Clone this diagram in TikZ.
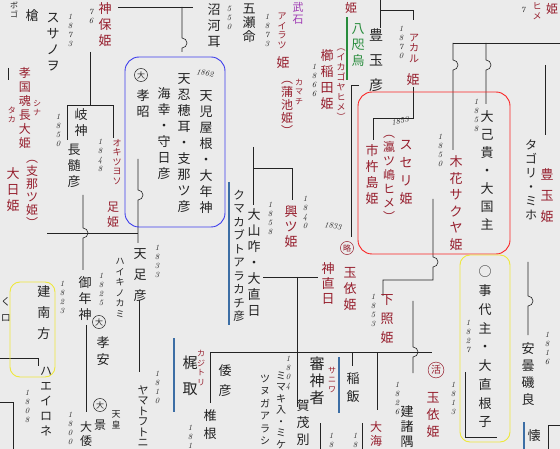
\documentclass[tikz,border=0pt]{standalone}
\usepackage{fontspec}
\newfontfamily\kanji{Noto Sans CJK JP}
\usetikzlibrary{arrows.meta}
\definecolor{paper}{RGB}{235,235,235}
\definecolor{ink}{RGB}{35,35,35}
\definecolor{crim}{RGB}{150,30,45}
\definecolor{bluebox}{RGB}{60,60,235}
\definecolor{redbox}{RGB}{250,35,35}
\definecolor{yelbox}{RGB}{238,232,60}
\definecolor{leaf}{RGB}{40,140,60}
\definecolor{plum}{RGB}{160,60,180}
\definecolor{barblue}{RGB}{60,110,165}
\tikzset{
  kami/.style  = {font=\kanji\fontsize{13}{16}\selectfont, text=ink,
                  align=center, inner sep=0pt},
  hime/.style  = {kami, text=crim},
  yomi/.style  = {font=\kanji\fontsize{8}{9.5}\selectfont, text=ink,
                  align=center, inner sep=0pt},
  nen/.style   = {font=\fontsize{8}{9}\selectfont\itshape, text=ink,
                  align=center, inner sep=0pt},
  sz/.style 2 args = {font=\kanji\fontsize{#1}{#2}\selectfont},
  kin/.style   = {draw=ink, line width=0.6pt},
  wed/.style   = {draw=ink, line width=0.5pt, double=paper, double distance=1.4pt},
  ring/.style  = {circle, draw=ink, line width=0.5pt, inner sep=0.8pt,
                  font=\kanji\fontsize{8}{8}\selectfont, text=ink},
  frame/.style = {rounded corners=14pt, line width=0.9pt},
  bar/.style   = {draw=barblue, line width=1.1pt}
}
\begin{document}
\begin{tikzpicture}[x=1pt, y=-1pt]
  \fill[paper] (0,0) rectangle (560,449);
  \useasboundingbox (0,0) rectangle (560,449);

  % 婚姻線
  \draw[wed] (0,29) -- (43,29);
  \draw[wed] (0,68) -- (45,68);
  \draw[wed] (58,52) -- (313,52);
  \draw[wed] (387,65) -- (560,65);
  \draw[wed] (212,147) -- (351,147);
  \draw[wed] (40,195) -- (140,195);
  \draw[wed] (128,159) -- (140,159);
  \draw[wed] (357,262) -- (560,262);
  \draw[wed] (395,301) -- (560,301);
  \draw[wed] (417,199) -- (473,199);
  \draw[wed] (492,187) -- (512,187);
  \draw[wed] (445,370) -- (470,370);
  \draw[wed] (308,423) -- (372,423);
  \draw[wed] (0,377) -- (43,377);
  \draw[wed] (47,236) -- (47,288);

  % 親子線
  \draw[kin] (118,7) -- (193,7);
  \draw[kin] (182,7) -- (182,38) arc[start angle=-90, end angle=90, radius=5] -- (182,52);
  \draw[kin] (8,68) -- (8,80);
  \draw[kin] (90,52) -- (90,105);
  \draw[kin] (67,140) -- (67,105) -- (113,105) -- (113,138);
  \draw[kin] (83,195) -- (83,228) arc[start angle=-90, end angle=90, radius=5] -- (83,270);
  \draw[kin] (86,325) -- (86,412);
  \draw[kin] (47,233) -- (138,233);
  \draw[kin] (138,159) -- (138,190) arc[start angle=-90, end angle=90, radius=5] -- (138,243);
  \draw[kin] (139,300) -- (139,372);
  \draw[kin] (253,147) -- (253,205);
  \draw[kin] (253,168) -- (292,168) -- (292,200);
  \draw[kin] (359,85) -- (351,85) -- (351,237);
  \draw[kin] (263,277) -- (318,277);
  \draw[kin] (297,277) -- (297,407);
  \draw[kin] (210,403) -- (210,352) -- (432,352);
  \draw[kin] (352,352) -- (352,366);
  \draw[kin] (377,352) -- (377,410);
  \draw[kin] (413,301) -- (413,347) arc[start angle=-90, end angle=90, radius=5] -- (413,373);
  \draw[kin] (433,199) -- (433,257) arc[start angle=-90, end angle=90, radius=5] -- (433,280) -- (383,280) -- (383,296);
  \draw[kin] (465,372) -- (465,437) -- (497,437);
  \draw[kin] (528,262) -- (528,296) arc[start angle=-90, end angle=90, radius=5] -- (528,335);
  \draw[kin] (453,43) -- (560,43);
  \draw[kin] (453,43) -- (453,60) arc[start angle=-90, end angle=90, radius=5] -- (453,150);
  \draw[kin] (486,43) -- (486,60) arc[start angle=-90, end angle=90, radius=5] -- (486,104);
  \draw[kin] (545,65) -- (545,135);
  \draw[kin] (413,87) -- (413,118) -- (373,118) -- (373,140);
  \draw[kin] (380,0) -- (380,28);
  \draw[kin] (380,10) -- (413,10) -- (413,20);
  \draw[kin] (0,358) -- (38,358) -- (38,366);
  \draw[kin] (0,402) -- (13,402) -- (13,449);
  \draw[kin] (320,423) -- (320,449);
  \draw[kin] (362,423) -- (362,449);
  \draw[kin] (548,449) -- (548,425) -- (560,425);

  % 色の縦棒
  \draw[bar] (229,182) -- (229,325);
  \draw[bar] (174,338) -- (174,412);
  \draw[bar] (339,357) -- (339,413);
  \draw[bar] (524,422) -- (524,449);
  \draw[draw=leaf, line width=1.3pt] (347,17) -- (347,80);

  % 左上
  \node[yomi] (bogo) at (14,10) {ボ\\ゴ};
  \node[kami] (yari) at (32,16) {槍};
  \node[kami] (susanoo) at (53,42) {ス\\サ\\ノ\\ヲ};
  \node[nen] (n1873a) at (70,30) {1\\8\\7\\3};
  \node[nen] (n76) at (91,16) {7\\6};
  \node[hime] (kamuho) at (105,25) {神\\保\\姫};
  \node[hime, sz={12}{14}] (kodama) at (25,108) {孝\\国\\魂\\長\\大\\姫};
  \node[yomi, text=crim] (shina) at (37,108) {シ\\ナ};
  \node[yomi, text=crim] (taka) at (12,115) {タ\\カ};
  \node[hime, sz={12}{13}] (shinatsu) at (32,194) {︵\\支\\那\\ツ\\姫\\︶};
  \node[hime] (hirume) at (13,190) {大\\日\\姫};

  % 岐神の枠
  \node[kami] (kunado) at (81,123) {岐\\神};
  \node[kami] (nagasune) at (74,166) {長\\髄\\彦};
  \node[nen] (n1850a) at (58,130) {1\\8\\5\\0};
  \node[nen] (n1848) at (100,155) {1\\8\\4\\8};
  \node[hime, sz={9}{9.5}] (okitsu) at (117,162) {オ\\キ\\ツ\\ヨ\\ソ};
  \node[hime, sz={12}{15}] (tarashi) at (113,215) {足\\姫};

  % 青の枠
  \node[ring] (dai1) at (141,75) {大};
  \node[kami] (kosho) at (143,104) {孝\\昭};
  \node[kami] (umisachi) at (164,134) {海\\幸\\・\\守\\日\\彦};
  \node[nen, rotate=-10] (n1862) at (205,73) {1862};
  \node[kami] (oshiho) at (184,143) {天\\忍\\穂\\耳\\・\\支\\那\\ツ\\彦};
  \node[kami] (koyane) at (206,152) {天\\児\\屋\\根\\・\\大\\年\\神};

  % 上中央
  \node[kami] (nunakawa) at (214,26) {沼\\河\\耳};
  \node[nen] (n550) at (229,18) {5\\5\\0};
  \node[kami, sz={13}{14}] (itsuse) at (249,23) {五\\瀬\\命};
  \node[nen] (n1873b) at (267,30) {1\\8\\7\\3};
  \node[kami, sz={11}{12}, text=plum] (takeishi) at (298,13) {武\\石};
  \node[hime, sz={9}{9.5}] (airatsu) at (282,31) {ア\\イ\\ラ\\ツ};
  \node[hime] (airahime) at (283,63) {姫};
  \node[hime, sz={12}{13}] (kamachi) at (287,108) {︵\\蒲\\池\\姫\\︶};
  \node[yomi, text=crim] (kamachiyomi) at (299,92) {カ\\マ\\チ};
  \node[nen] (n1866) at (314,80) {1\\8\\6\\6};
  \node[hime] (kushinada) at (327,80) {櫛\\稲\\田\\姫};
  \node[hime, sz={9}{10}] (ikago) at (341,85) {︵\\イ\\カ\\ゴ\\ヤ\\ヒ\\メ\\︶};
  \node[kami, text=leaf] (yata) at (358,45) {八\\咫\\烏};
  \node[hime, sz={12}{12}] (topHime) at (351,8) {姫};

  % 右上
  \node[kami, sz={14}{25}] (toyotama) at (376,60) {豊\\玉\\彦};
  \node[nen] (n1870) at (401,42) {1\\8\\7\\0};
  \node[hime, sz={10}{10.5}] (akaru) at (414,48) {ア\\カ\\ル};
  \node[hime] (akaruhime) at (413,80) {姫};
  \node[nen, rotate=10] (n1853a) at (400,121) {1853};
  \node[nen] (n7) at (523,10) {7};
  \node[hime, sz={9}{10}] (hime7) at (537,11) {ヒ\\メ};
  \node[hime, sz={12}{12}] (hime8) at (552,9) {姫};
  \node[kami, sz={12}{14}] (tagori) at (531,180) {タ\\ゴ\\リ\\・\\ミ\\ホ};
  \node[hime, sz={13}{21}] (toyotamahime) at (547,196) {豊\\玉\\姫};

  % 赤の枠
  \node[kami, sz={13}{18}] (onamuchi) at (487,170) {大\\己\\貴\\・\\大\\国\\主};
  \node[nen] (n1858a) at (476,115) {1\\8\\5\\8};
  \node[nen] (n1850b) at (440,150) {1\\8\\5\\0};
  \node[hime, sz={13}{16.5}] (sakuya) at (456,203) {木\\花\\サ\\ク\\ヤ\\姫};
  \node[hime, sz={13}{18}] (suseri) at (406,172) {ス\\セ\\リ\\姫};
  \node[hime, sz={12}{14}] (okitsushima) at (389,178) {︵\\瀛\\ツ\\嶋\\ヒ\\メ\\︶};
  \node[hime] (ichiki) at (372,175) {市\\杵\\島\\姫};

  % 中央
  \node[kami] (oyamakui) at (254,262) {大\\山\\咋\\・\\大\\直\\日};
  \node[nen] (n1858b) at (270,218) {1\\8\\5\\8};
  \node[nen] (n1840) at (305,212) {1\\8\\4\\0};
  \node[hime, sz={13}{15}] (okitsuhime) at (291,227) {興\\ツ\\姫};
  \node[kami, sz={11.5}{13.5}] (kumakabuto) at (239,256) {ク\\マ\\カ\\ブ\\ト\\ア\\ラ\\カ\\チ\\彦};
  \node[nen, rotate=-8] (n1833a) at (333,226) {1833};
  \node[ring, draw=crim, text=crim] (ryaku) at (347,248) {略};
  \node[hime, sz={13}{15}] (kannaobi) at (328,283) {神\\直\\日};
  \node[hime] (tamayori) at (350,289) {玉\\依\\姫};

  % 左下
  \node[kami, sz={13}{21}] (ashi) at (140,275) {天\\足\\彦};
  \node[nen] (n1833b) at (157,261) {1\\8\\3\\3};
  \node[kami, sz={9}{10.5}] (haiki) at (120,288) {ハ\\イ\\キ\\ノ\\カ\\ミ};
  \node[nen] (n1825) at (101,289) {1\\8\\2\\5};
  \node[ring] (dai2) at (99,322) {大};
  \node[kami, sz={13}{17}] (koan) at (103,351) {孝\\安};
  \node[kami] (mitoshi) at (85,299) {御\\年\\神};
  \node[nen] (n1810a) at (157,387) {1\\8\\1\\0};
  \node[kami, sz={11}{10.5}] (yamato) at (143,416) {ヤ\\マ\\ト\\フ\\ト\\ニ};
  \node[ring] (dai3) at (100,405) {大};
  \node[kami, sz={12}{14}] (kei) at (100,425) {景};
  \node[kami, sz={9}{10.5}] (tenno) at (116,420) {天\\皇};
  \node[kami, sz={12}{14}] (oyamato) at (86,434) {大\\倭};
  \node[nen] (n1800) at (70,428) {1\\8\\0\\0};
  \node[kami, sz={12}{15}] (haeirone) at (46,402) {ハ\\エ\\イ\\ロ\\ネ};
  \node[nen] (n1808a) at (27,406) {1\\8\\0\\8};
  \node[kami, sz={13}{21}] (takeminakata) at (44,313) {建\\南\\方};
  \node[nen] (n1823) at (62,297) {1\\8\\2\\3};
  \node[kami, sz={10}{16}] (edge) at (6,310) {く\\ロ};

  % 下中央
  \node[kami, sz={15}{26}] (kajitori) at (190,376) {梶\\取};
  \node[yomi, text=crim] (kajiyomi) at (201,368) {カ\\ジ\\ト\\リ};
  \node[kami, sz={13}{20}] (yamatohiko) at (225,381) {倭\\彦};
  \node[kami, sz={13}{18}] (shiine) at (210,425) {椎\\根};
  \node[nen] (n181) at (190,437) {1\\8\\1};
  \node[nen] (n1804) at (288,373) {1\\8\\0\\4};
  \node[kami, sz={10}{11.5}] (mimaki) at (281,410) {ミ\\マ\\キ\\入\\・\\ミ\\ケ};
  \node[kami, sz={10}{12.5}] (tsunuga) at (265,410) {ツ\\ヌ\\ガ\\ア\\ラ\\シ};
  \node[kami, sz={13}{17}] (kamowake) at (303,423) {賀\\茂\\別};
  \node[kami, sz={15}{17}] (saniwa) at (317,381) {審\\神\\者};
  \node[yomi, text=crim] (saniwayomi) at (332,380) {サ\\ニ\\ワ};
  \node[kami, sz={13}{18}] (inai) at (353,388) {稲\\飯};
  \node[nen] (n18a) at (331,440) {1\\8};
  \node[nen] (n18b) at (355,440) {1\\8};

  % 右下
  \node[nen] (n1853b) at (373,310) {1\\8\\5\\3};
  \node[hime, sz={13}{19}] (shitateru) at (387,319) {下\\照\\姫};
  \node[ring, draw=crim, text=crim, font=\kanji\fontsize{10}{10}\selectfont] (katsu) at (436,370) {活};
  \node[hime, sz={13}{17}] (tamayori2) at (433,415) {玉\\依\\姫};
  \node[nen] (n1813) at (453,398) {1\\8\\1\\3};
  \node[nen] (n1826) at (397,398) {1\\8\\2\\6};
  \node[kami, sz={13}{15}] (takemoro) at (407,427) {建\\諸\\隅};
  \node[hime, sz={12}{14}] (ooumi) at (376,434) {大\\海};
  \node[kami, sz={13}{18.75}] (kotoshiro) at (485,347) {○\\事\\代\\主\\・\\大\\直\\根\\子};
  \node[nen] (n1827) at (468,336) {1\\8\\2\\7};
  \node[kami, sz={13}{17}] (azumi) at (528,374) {安\\曇\\磯\\良};
  \node[nen] (n1816) at (547,348) {1\\8\\1\\6};
  \node[kami] (kai) at (534,436) {懐};

  % 色の枠
  \draw[frame, draw=bluebox] (125,57) rectangle (225,227);
  \draw[frame, draw=redbox] (358,92) rectangle (510,254);
  \draw[frame, rounded corners=10pt, draw=yelbox] (460,255) rectangle (510,442);
  \draw[frame, rounded corners=10pt, draw=yelbox] (10,282) rectangle (55,377);
\end{tikzpicture}
\end{document}
